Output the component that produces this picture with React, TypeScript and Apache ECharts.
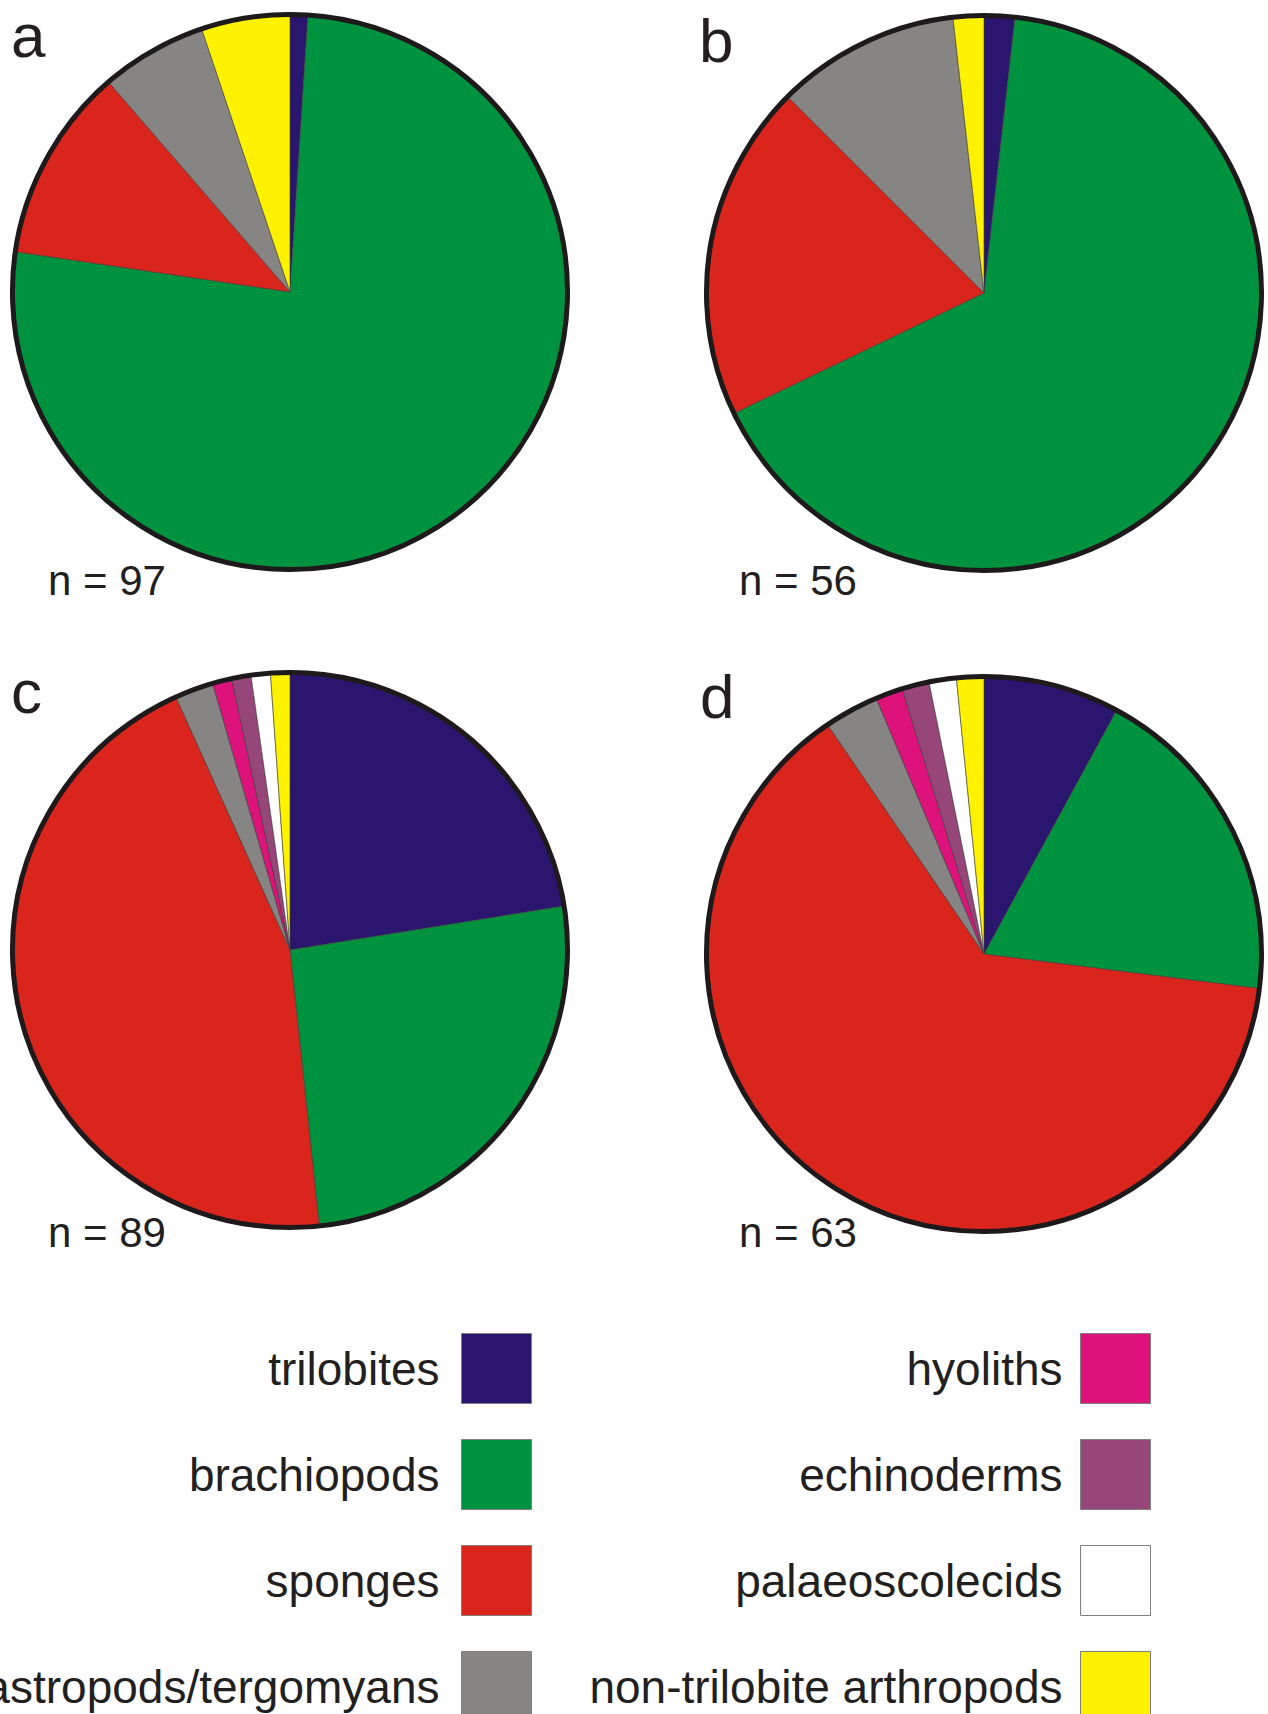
import React, { useEffect, useRef } from "react";
import * as echarts from "echarts";

// ---- data ----
const categories = [
  "trilobites",
  "brachiopods",
  "sponges",
  "gastropods/tergomyans",
  "hyoliths",
  "echinoderms",
  "palaeoscolecids",
  "non-trilobite arthropods",
];
const categoryColors = [
  "#2a166f",
  "#00933f",
  "#da251d",
  "#868584",
  "#dd137b",
  "#97467a",
  "#ffffff",
  "#fff200",
];
// specimen counts per panel, in category order
const countsA = [1, 74, 11, 6, 0, 0, 0, 5];
const countsB = [1, 37, 11, 6, 0, 0, 0, 1];
const countsC = [20, 23, 40, 2, 1, 1, 1, 1];
const countsD = [5, 12, 40, 2, 1, 1, 1, 1];
const panelLetters = ["a", "b", "c", "d"];
const sampleSizes = [97, 56, 89, 63];

const FONT = "'Liberation Sans', Arial, Helvetica, sans-serif";
const INK = "#231f20";
const W = 1268;
const H = 1714;

const panelCounts = [countsA, countsB, countsC, countsD];
const panelLayout = [
  { center: [290, 292], letter: [11, 35], n: [48, 580] },
  { center: [984, 293], letter: [699, 40], n: [739, 580] },
  { center: [290, 950], letter: [11, 691], n: [48, 1232] },
  { center: [984, 954], letter: [700, 696], n: [739, 1232] },
];
const PIE_R = 277.5;

export default function App() {
  const ref = useRef<HTMLDivElement>(null);

  useEffect(() => {
    if (!ref.current) return;
    const chart = echarts.init(ref.current, undefined, { renderer: "svg" });

    const series: any[] = [];
    panelCounts.forEach((counts, pi) => {
      const lay = panelLayout[pi];
      series.push({
        type: "pie",
        name: "panel " + panelLetters[pi],
        center: lay.center,
        radius: PIE_R,
        startAngle: 90,
        clockwise: true,
        silent: true,
        label: { show: false },
        labelLine: { show: false },
        emphasis: { disabled: true },
        itemStyle: { borderColor: "#3a3a3a", borderWidth: 0.6 },
        data: categories
          .map((c, i) => ({
            name: c,
            value: counts[i],
            itemStyle: { color: categoryColors[i] },
          }))
          .filter((d) => d.value > 0),
      });
      series.push({
        type: "pie",
        name: "outline " + panelLetters[pi],
        center: lay.center,
        radius: PIE_R,
        silent: true,
        z: 5,
        label: { show: false },
        labelLine: { show: false },
        emphasis: { disabled: true },
        itemStyle: {
          color: "rgba(0,0,0,0)",
          borderColor: "#1e1a1b",
          borderWidth: 5,
        },
        data: [{ name: "_outline" + pi, value: 1 }],
      });
    });

    const graphic: any[] = [];
    panelLayout.forEach((lay, pi) => {
      graphic.push({
        type: "text",
        x: lay.letter[0],
        y: lay.letter[1],
        silent: true,
        style: {
          text: panelLetters[pi],
          font: `62px ${FONT}`,
          fill: INK,
          verticalAlign: "middle",
        },
      });
      graphic.push({
        type: "text",
        x: lay.n[0],
        y: lay.n[1],
        silent: true,
        style: {
          text: "n = " + sampleSizes[pi],
          font: `42px ${FONT}`,
          fill: INK,
          verticalAlign: "middle",
        },
      });
    });

    const legendBase = {
      orient: "vertical",
      align: "right",
      top: 1333,
      height: 420,
      padding: 0,
      itemWidth: 70,
      itemHeight: 70,
      itemGap: 35,
      icon: "rect",
      selectedMode: false,
      itemStyle: { borderColor: "#7f7f7f", borderWidth: 1 },
    };

    chart.setOption({
      animation: false,
      backgroundColor: "#ffffff",
      legend: [
        {
          ...legendBase,
          right: W - 532,
          data: categories.slice(0, 4),
          textStyle: {
            fontSize: 46,
            fontFamily: FONT,
            color: INK,
            padding: [6, 17, 0, 0],
          },
        },
        {
          ...legendBase,
          right: W - 1151,
          data: categories.slice(4),
          textStyle: {
            fontSize: 46,
            fontFamily: FONT,
            color: INK,
            padding: [0, 13, 0, 0],
          },
        },
      ],
      series,
      graphic,
    });

    return () => chart.dispose();
  }, []);

  return (
    <div
      ref={ref}
      style={{ position: "absolute", left: 0, top: 0, width: W, height: H }}
    />
  );
}
